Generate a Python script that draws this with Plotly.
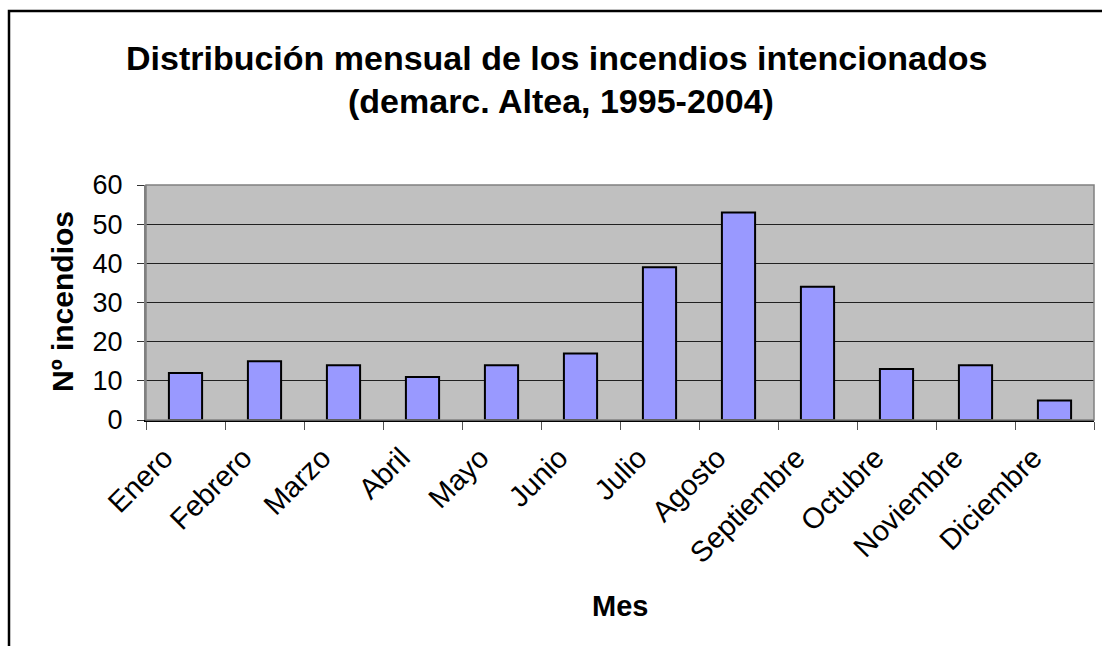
import plotly.graph_objects as go

months = ["Enero", "Febrero", "Marzo", "Abril", "Mayo", "Junio", "Julio",
          "Agosto", "Septiembre", "Octubre", "Noviembre", "Diciembre"]
fires = [12, 15, 14, 11, 14, 17, 39, 53, 34, 13, 14, 5]
y_ticks = [0, 10, 20, 30, 40, 50, 60]

title_line1 = "Distribución mensual de los incendios intencionados"
title_line2 = "(demarc. Altea, 1995-2004)"
x_title = "Mes"
y_title = "Nº incendios"

FONT = "Arial, Liberation Sans, sans-serif"
W, H = 1102, 646
# plot area in page pixels
P_LEFT, P_RIGHT, P_TOP, P_BOTTOM = 146, 1094, 185, 420
L, R, T, B = P_LEFT, W - P_RIGHT, P_TOP, H - P_BOTTOM
pw, ph = W - L - R, H - T - B
n = len(months)
cat_px = pw / n
label_shift = 21 / cat_px  # labels sit a bit left of category centres


def px_x(p):
    return (p - L) / pw


def px_y(p):
    return (H - B - p) / ph


fig = go.Figure()
fig.add_trace(go.Bar(
    x=months, y=fires,
    marker=dict(color="#9999FF", line=dict(color="black", width=2)),
    width=0.42, hoverinfo="x+y",
))
# invisible companion trace that carries the tick labels on xaxis2
fig.add_trace(go.Scatter(
    x=months, y=fires, xaxis="x2", yaxis="y",
    mode="lines", line=dict(width=0, color="rgba(0,0,0,0)"),
    hoverinfo="skip", showlegend=False,
))

border = "M {x0} {y0} L {x0} {y1} L {x2} {y1}".format(
    x0=px_x(9), y0=px_y(700), y1=px_y(11), x2=px_x(1160))

fig.update_layout(
    width=W, height=H,
    margin=dict(l=L, r=R, t=T, b=B),
    paper_bgcolor="white",
    plot_bgcolor="#C0C0C0",
    showlegend=False,
    font=dict(family=FONT, color="black"),
    shapes=[
        dict(type="path", xref="paper", yref="paper", path=border,
             line=dict(color="black", width=2.5), layer="below"),
        dict(type="rect", xref="paper", yref="paper",
             x0=0, x1=1, y0=0, y1=1,
             line=dict(color="#808080", width=1.5), layer="above"),
    ],
    annotations=[
        dict(text=title_line1, xref="paper", yref="paper",
             x=px_x(556), y=px_y(58), showarrow=False,
             xanchor="center", yanchor="middle",
             font=dict(family=FONT, size=34, color="black", weight="bold")),
        dict(text=title_line2, xref="paper", yref="paper",
             x=px_x(561), y=px_y(101), showarrow=False,
             xanchor="center", yanchor="middle",
             font=dict(family=FONT, size=34, color="black", weight="bold")),
        dict(text=x_title, xref="paper", yref="paper",
             x=px_x(620), y=px_y(606), showarrow=False,
             xanchor="center", yanchor="middle",
             font=dict(family=FONT, size=29, color="black", weight="bold")),
        dict(text=y_title, xref="paper", yref="paper",
             x=px_x(62), y=px_y(302), showarrow=False, textangle=-90,
             xanchor="center", yanchor="middle",
             font=dict(family=FONT, size=30, color="black", weight="bold")),
    ],
    xaxis=dict(
        type="category",
        categoryorder="array", categoryarray=months,
        range=[-0.5, n - 0.5],
        tickson="boundaries",
        ticks="outside", ticklen=8, tickcolor="#555555", tickwidth=1,
        showline=True, linecolor="black", linewidth=2,
        showgrid=False,
        showticklabels=False,
    ),
    xaxis2=dict(
        type="category",
        categoryorder="array", categoryarray=months,
        overlaying="x", anchor="y", side="bottom",
        range=[-0.5 + label_shift, n - 0.5 + label_shift],
        showline=False, showgrid=False, zeroline=False,
        ticks="", ticklen=8,
        tickangle=-45,
        ticklabelstandoff=14,
        tickfont=dict(family=FONT, size=29, color="black"),
    ),
    yaxis=dict(
        range=[0, 60],
        tickvals=y_ticks,
        ticks="outside", ticklen=7, tickcolor="#333333", tickwidth=1,
        showline=True, linecolor="#808080", linewidth=2,
        showgrid=True, gridcolor="#202020", gridwidth=1,
        zeroline=False,
        ticklabelstandoff=9,
        tickfont=dict(family=FONT, size=27, color="black"),
    ),
)

fig.write_html(
    "out.html",
    config={"displayModeBar": False},
    post_script="document.body.style.margin='0';"
                "document.body.style.overflow='hidden';",
)
